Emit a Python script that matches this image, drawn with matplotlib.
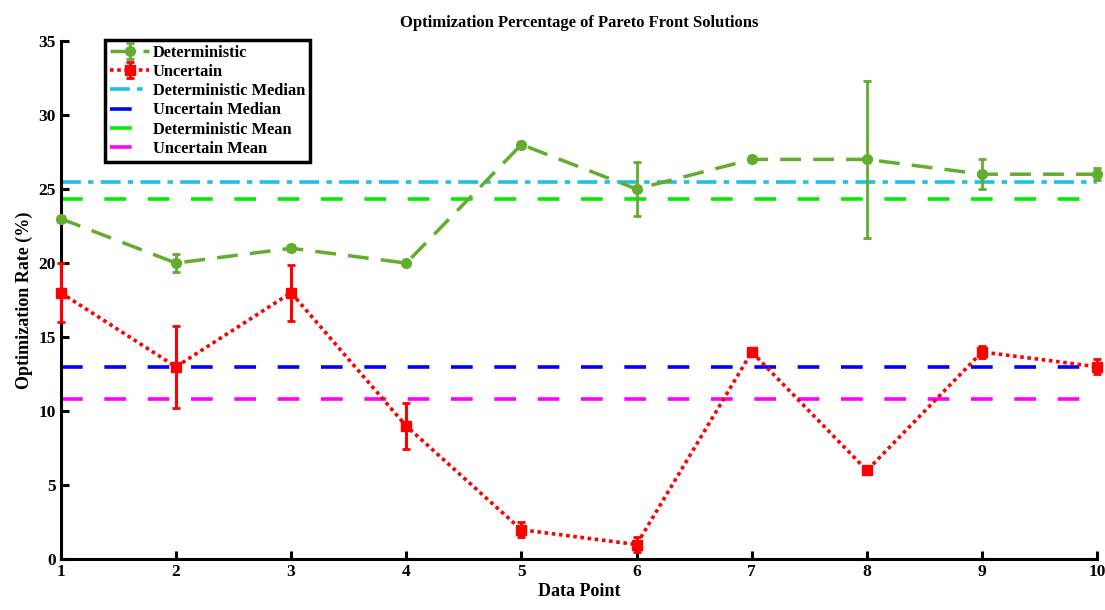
import numpy as np
import matplotlib.pyplot as plt

# data
points = np.arange(1, 11)
det_rate = [23, 20, 21, 20, 28, 25, 27, 27, 26, 26]
det_err = [0.2, 0.6, 0.2, 0.15, 0.2, 1.8, 0.2, 5.3, 1.0, 0.4]
unc_rate = [18, 13, 18, 9, 2, 1, 14, 6, 14, 13]
unc_err = [2.0, 2.75, 1.9, 1.55, 0.5, 0.5, 0.2, 0.2, 0.4, 0.5]

det_median = np.median(det_rate)
unc_median = np.median(unc_rate)
det_mean = np.mean(det_rate)
unc_mean = np.mean(unc_rate)

plt.rcParams["font.family"] = ["Liberation Serif", "DejaVu Serif"]
plt.rcParams["font.weight"] = "bold"
plt.rcParams["lines.dashed_pattern"] = [6.0, 3.5]

fig, ax = plt.subplots(figsize=(11.05, 6.1), dpi=100)
fig.subplots_adjust(left=0.055, right=0.993, top=0.933, bottom=0.083)

green = "#62ac2e"
h_det = ax.errorbar(points, det_rate, yerr=det_err, color=green, linestyle="--",
                    linewidth=2.5, marker="o", markersize=7, capsize=3, elinewidth=2,
                    capthick=2, label="Deterministic", zorder=4)
h_unc = ax.errorbar(points, unc_rate, yerr=unc_err, color="#ff0000", linestyle=(0, (1, 1)),
                    linewidth=2.6, marker="s", markersize=7, capsize=3, elinewidth=2.2,
                    capthick=2, label="Uncertain", zorder=4)
# let the end markers sit on top of the axes edge
for cont in (h_det, h_unc):
    cont.lines[0].set_clip_on(False)
    for art in list(cont.lines[1]) + list(cont.lines[2]):
        art.set_clip_on(False)

lw_ref = 2.6
l1 = ax.axhline(det_median, color="#1ebfe8", linestyle=(0, (5.5, 2, 1.5, 2)), linewidth=lw_ref,
                label="Deterministic Median")
l2 = ax.axhline(unc_median, color="#0000ff", linestyle=(0, (6, 6)), linewidth=lw_ref,
                label="Uncertain Median")
l3 = ax.axhline(det_mean, color="#00ee00", linestyle=(0, (6, 6)), linewidth=lw_ref,
                label="Deterministic Mean")
l4 = ax.axhline(unc_mean, color="#ff00ff", linestyle=(0, (6, 6)), linewidth=lw_ref,
                label="Uncertain Mean")

ax.set_xlim(1, 10)
ax.set_ylim(0, 35)
ax.set_xticks(points)
ax.set_yticks(np.arange(0, 36, 5))
for side in ["top", "right"]:
    ax.spines[side].set_visible(False)
for side in ["left", "bottom"]:
    ax.spines[side].set_linewidth(2.2)
ax.tick_params(direction="in", length=6, width=2.2, labelsize=12.5)

ax.set_title("Optimization Percentage of Pareto Front Solutions", fontsize=12,
             fontweight="bold", pad=10)
ax.set_xlabel("Data Point", fontsize=13, fontweight="bold", labelpad=2)
ax.set_ylabel("Optimization Rate (%)", fontsize=13, fontweight="bold", labelpad=4)

leg = ax.legend([h_det, h_unc, l1, l2, l3, l4],
                ["Deterministic", "Uncertain", "Deterministic Median",
                 "Uncertain Median", "Deterministic Mean", "Uncertain Mean"],
                loc="upper left", bbox_to_anchor=(0.035, 1.018), fontsize=11.8,
                frameon=True, fancybox=False, framealpha=1, borderpad=0.3,
                labelspacing=0.2, handlelength=2.4, handletextpad=0.2)
leg.get_frame().set_edgecolor("black")
leg.get_frame().set_linewidth(2.5)

fig.savefig("out.png", dpi=100)
